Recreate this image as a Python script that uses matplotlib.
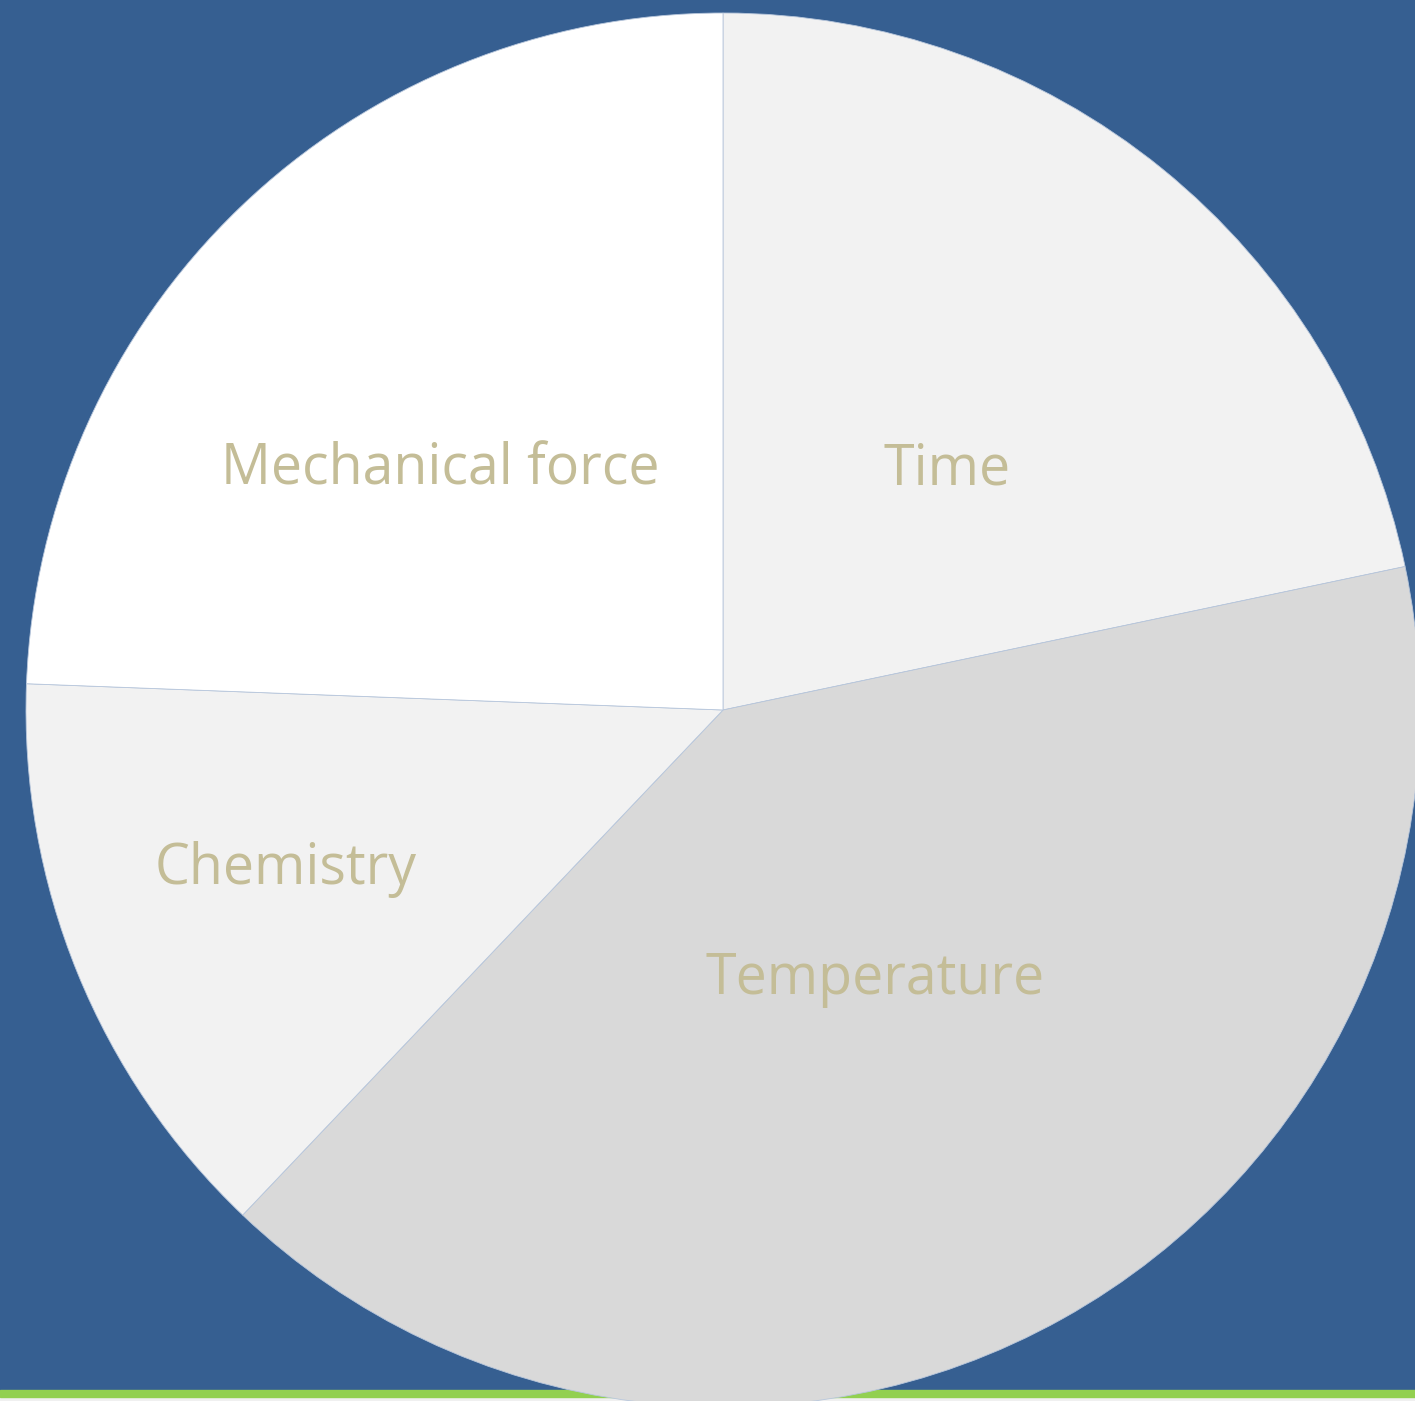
import matplotlib.pyplot as plt

# slice data, clockwise from 12 o'clock
labels = ["Time", "Temperature", "Chemistry", "Mechanical force"]
shares = [21.7, 40.4, 13.5, 24.4]
slice_colors = ["#F2F2F2", "#D9D9D9", "#F2F2F2", "#FFFFFF"]

# label anchor points, in units of the pie radius from the centre
label_xy = [(0.321, 0.345), (0.218, -0.387), (-0.628, -0.229), (-0.406, 0.345)]

W, H = 1415, 1401
fig = plt.figure(figsize=(W / 100, H / 100), dpi=100)
fig.patch.set_facecolor("#365F91")
ax = fig.add_axes([0, 0, 1, 1])

# footer strip: green rule with grey under it
ax.axhspan(0, 4, color="#F0F0F0", zorder=0)
ax.axhspan(4, 11.5, color="#92D050", zorder=0)

cx, cy, r = 723, H - 710, 697
wedges, texts = ax.pie(shares, labels=labels, colors=slice_colors,
                       startangle=90, counterclock=False,
                       center=(cx, cy), radius=r, frame=True,
                       wedgeprops=dict(edgecolor="#B8C7DC", linewidth=0.6),
                       textprops=dict(color="#C4BD97", fontsize=40,
                                      family="Open Sans"))
for t, (dx, dy) in zip(texts, label_xy):
    t.set_position((cx + dx * r, cy + dy * r))
    t.set_ha("center")
    t.set_va("center")

ax.set_xlim(0, W)
ax.set_ylim(0, H)
ax.set_aspect("auto")
ax.axis("off")

fig.savefig("out.png", dpi=100, facecolor=fig.get_facecolor())
